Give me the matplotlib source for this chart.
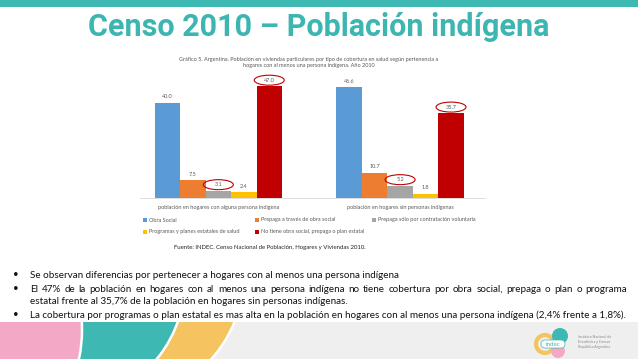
import matplotlib
matplotlib.use("Agg")
import matplotlib.pyplot as plt
from matplotlib.patches import Ellipse, Circle, Rectangle, FancyBboxPatch

W, H = 638, 359

groups = ["población en hogares con alguna persona indígena",
          "población en hogares sin personas indígenas"]
series = ["Obra Social",
          "Prepaga a través de obra social",
          "Prepaga sólo por contratación voluntaria",
          "Programas y planes estatales de salud",
          "No tiene obra social, prepaga o plan estatal"]
con_indigena = [40.0, 7.5, 3.1, 2.4, 47.0]
sin_indigena = [46.6, 10.7, 5.2, 1.8, 35.7]
colors = ["#5B9BD5", "#ED7D31", "#A5A5A5", "#FFC000", "#C00000"]
circled = [(0, 2), (0, 4), (1, 2), (1, 4)]  # (group, series) ringed in red

title = "Censo 2010 – Población indígena"
chart_title = ("Gráfico 5. Argentina. Población en viviendas particulares por tipo de "
               "cobertura en salud según pertenencia a\nhogares con al menos una persona "
               "indígena. Año 2010")
source = "Fuente: INDEC. Censo Nacional de Población, Hogares y Viviendas 2010."
bullet_lines = [
    "Se observan diferencias por pertenecer a hogares con al menos una persona indígena",
    "El 47% de la población en hogares con al menos una persona indígena no tiene "
    "cobertura por obra social, prepaga o plan o programa",
    "estatal frente al 35,7% de la población en hogares sin personas indígenas.",
    "La cobertura por programas o plan estatal es mas alta en la población en hogares "
    "con al menos una persona indígena (2,4% frente a 1,8%).",
]

body_font = ["Lato", "DejaVu Sans"]
grey_txt = "#595959"

fig = plt.figure(figsize=(W / 100, H / 100), dpi=100)
fig.patch.set_facecolor("white")

# full-slide layer in pixel coordinates
bg = fig.add_axes([0, 0, 1, 1])
bg.set_xlim(0, W)
bg.set_ylim(H, 0)
bg.axis("off")

bg.add_patch(Rectangle((0, 0), W, 6.5, fc="#3DB8B3", ec="none"))
bg.text(319, 27, title, ha="center", va="center", fontsize=22, fontweight="bold",
        color="#3DB6B1", family=["Roboto", "DejaVu Sans"])

bg.text(309, 62.5, chart_title, ha="center", va="center", fontsize=4, color=grey_txt,
        family=body_font, linespacing=1.5)

# legend, two rows
leg_pos = [(145, 220), (257, 220), (374, 220), (145, 232), (257, 232)]
for (lx, ly), name, c in zip(leg_pos, series, colors):
    bg.add_patch(Rectangle((lx - 2, ly - 2), 4, 4, fc=c, ec="none"))
    bg.text(lx + 4, ly, name, ha="left", va="center", fontsize=4, color=grey_txt,
            family=body_font)

bg.text(174, 247, source, ha="left", va="center", fontsize=4.3, color="#222222",
        family=body_font)

# bullets
fig.canvas.draw()
renderer = fig.canvas.get_renderer()


def justified(x0, x1, y, text, **kw):
    words = text.split()
    objs = [bg.text(0, y, w, ha="left", va="center", **kw) for w in words]
    widths = [o.get_window_extent(renderer).width for o in objs]
    gap = (x1 - x0 - sum(widths)) / (len(words) - 1)
    x = x0
    for o, w in zip(objs, widths):
        o.set_x(x)
        x += w + gap


bkw = dict(fontsize=7.15, color="#111111", family=body_font)
line_y = [275, 289, 302, 315]
for y, txt, i in zip(line_y, bullet_lines, range(4)):
    if i != 2:
        bg.text(15.5, y, "•", ha="center", va="center", **bkw)
    if i == 1:
        justified(30, 627, y, txt, **bkw)
    else:
        bg.text(30, y, txt, ha="left", va="center", **bkw)

# footer
foot = Rectangle((0, 322), W, H - 322, fc="#EFEFEF", ec="none")
bg.add_patch(foot)
for (cx, cy, r, c) in [(110, 270, 135, "#F5C35F"), (60, 280, 125, "#3DB8B3"),
                       (-60, 330, 142, "#F3A9C6")]:
    p = Circle((cx, cy), r, fc=c, ec="white", lw=1.8)
    bg.add_patch(p)
    p.set_clip_path(foot)

# logo
bg.add_patch(Circle((545, 344), 9, fc="none", ec="#F5C35F", lw=3))
bg.add_patch(Circle((560, 336), 8, fc="#3DB8B3", ec="none"))
bg.add_patch(Circle((558, 351), 7, fc="#F3A9C6", ec="none"))
bg.add_patch(FancyBboxPatch((541, 340), 24, 8, boxstyle="round,pad=0,rounding_size=4",
                            fc="white", ec="#3DB8B3", lw=0.5))
bg.text(553, 344.2, "indec", ha="center", va="center", fontsize=4.5, color="#3DB8B3",
        family=body_font)
bg.text(578, 342, "Instituto Nacional de\nEstadística y Censos\nRepública Argentina",
        ha="left", va="center", fontsize=2.6, color="#8A8A8A", family=body_font,
        linespacing=1.4)

# chart
ax = fig.add_axes([140 / W, (H - 198) / H, 345 / W, 119 / H])
ax.patch.set_alpha(0)
ax.set_xlim(-0.431, 1.467)
ax.set_ylim(0, 50)
bw = 0.14
for g, vals in enumerate([con_indigena, sin_indigena]):
    for i, v in enumerate(vals):
        x = g + (i - 2) * bw
        ax.bar(x, v, width=bw, color=colors[i])
        ax.text(x, v + 2.5, f"{v:.1f}", ha="center", va="center", fontsize=4,
                color=grey_txt, family=body_font)
        if (g, i) in circled:
            ax.add_patch(Ellipse((x, v + 2.5), 0.165, 4.2, fill=False,
                                 ec="#C00000", lw=0.8, clip_on=False))
    ax.text(g, -4, groups[g], ha="center", va="center", fontsize=4, color=grey_txt,
            family=body_font)

for s in ["top", "left", "right"]:
    ax.spines[s].set_visible(False)
ax.spines["bottom"].set_color("#D9D9D9")
ax.spines["bottom"].set_linewidth(0.6)
ax.set_xticks([])
ax.set_yticks([])

fig.savefig("out.png", dpi=100)
